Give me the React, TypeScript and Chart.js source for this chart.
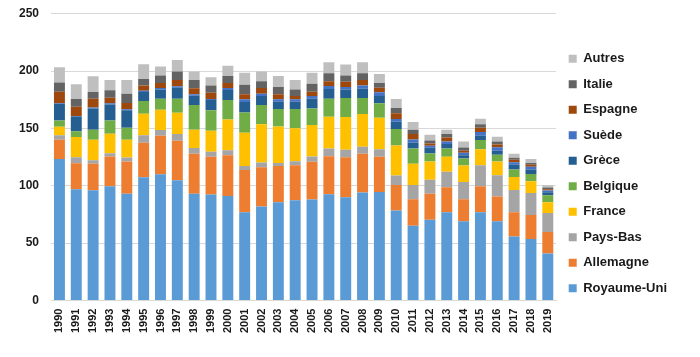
import React, { useEffect, useRef } from "react";
import { Chart, registerables } from "chart.js";

Chart.register(...registerables);

const years = [
  "1990","1991","1992","1993","1994","1995","1996","1997","1998","1999",
  "2000","2001","2002","2003","2004","2005","2006","2007","2008","2009",
  "2010","2011","2012","2013","2014","2015","2016","2017","2018","2019",
];

const royaumeUni = [123.3,97,96.2,99.7,93.2,107.5,110.1,104.9,93.2,92.4,91.2,76.9,81.9,85.7,87.4,88,92.7,90,94.1,94.7,78.4,65.3,70.5,76.9,69.1,76.9,69.1,55.9,53.6,41.1];
const allemagne = [16.9,22.8,23,25.9,28,30,33.5,34.4,34.7,32.9,35.5,37,34.4,31.7,30.6,32.9,33.2,35,33.8,30.6,22.4,23,22.5,21.9,19.2,22.8,21.5,21,21,18.6];
const paysBas = [3.8,5.2,3.2,2.9,3.5,6.5,5,5.8,5,4.4,4.4,3.5,4,2.6,3.5,4.7,6.7,6.4,6.1,6.7,8.2,12.5,12.2,13.4,15.1,18.3,18.7,19.5,19.2,16.6];
const france = [7.5,17.5,17.8,16.9,15.5,18.9,17.8,18.7,16,18.3,26.8,28.9,33.3,31.8,28.8,27.4,27.7,28.6,28.6,27.4,26.2,18.4,16,13.1,14.3,14,11.9,11.4,10.2,9.4];
const belgique = [5.5,5.2,8.7,11.6,10.4,11.1,9.6,12.2,21.6,18,16.9,17.7,16.9,15.2,16.7,14.5,15.7,16.6,14,12.5,14.3,13.4,7,7.3,6.1,7.9,5.8,6.4,6.4,6.1];
const grece = [14.3,12.6,18.6,14,15.2,7.8,8.1,9.6,8.1,8.8,8.8,9.1,7.8,6.4,6.4,8.5,8.4,7.3,8.1,6.4,6.4,5.2,5,3.8,2.9,3.7,3.5,4.1,3.8,2.6];
const suede = [0.7,0.5,0.9,1,0.9,1.2,1.2,1.2,1.2,0.9,1.7,2.3,2.1,2,2,2.3,2.7,2.3,2.7,3.2,2.3,2.6,1.7,2.3,2.1,3.3,3.2,2.3,2.4,1.5];
const espagne = [10,8.2,7.6,4.9,5.5,4.4,4.4,5.5,5.2,5.5,4.4,4.4,4.9,4.4,2.9,3.8,4,4.6,4.9,4.1,5,4.7,2,3.5,1.7,3.7,2.4,2.1,1.7,1.1];
const italie = [8,6.7,5.8,6.4,8.2,5.8,6.4,7.3,7.3,6.2,6.1,8.4,5.8,6.4,5.6,7,7,5.3,5.8,4.1,4.6,3.8,2.7,2.9,3,3,2.6,1.7,1.7,1.5];
const autres = [13.4,12.8,13.7,9,11.9,12.8,7.9,10.2,7.3,7.2,9,10.5,8.5,9.6,8.4,9.6,9.7,9.6,9.7,7.9,7.9,6.7,4.9,3.8,5.2,4.9,4.1,3.5,3.3,2];

const yTicks = [0, 50, 100, 150, 200, 250];

const seriesNames = ["Royaume-Uni","Allemagne","Pays-Bas","France","Belgique","Grèce","Suède","Espagne","Italie","Autres"];
const seriesValues = [royaumeUni, allemagne, paysBas, france, belgique, grece, suede, espagne, italie, autres];
const seriesColors = ["#5B9BD5","#ED7D31","#A5A5A5","#FFC000","#70AD47","#255E91","#4472C4","#9E480E","#636363","#BFBFBF"];

export default function App() {
  const ref = useRef<HTMLCanvasElement | null>(null);

  useEffect(() => {
    if (!ref.current) return;
    const font = "'Liberation Sans', Arial, sans-serif";
    const chart = new Chart(ref.current, {
      type: "bar",
      data: {
        labels: years,
        datasets: seriesNames.map((name, i) => ({
          label: name,
          data: seriesValues[i],
          backgroundColor: seriesColors[i],
          borderWidth: 0,
          categoryPercentage: 0.65,
          barPercentage: 1,
        })),
      },
      options: {
        animation: false,
        responsive: false,
        maintainAspectRatio: false,
        layout: { padding: { top: 6, left: 7, right: 23, bottom: 16 } },
        plugins: {
          tooltip: { enabled: false },
          legend: {
            position: "right",
            reverse: true,
            labels: {
              boxWidth: 8,
              boxHeight: 8,
              padding: 12.5,
              color: "#1a1a1a",
              font: { family: font, size: 13, weight: "bold" },
            },
          },
        },
        scales: {
          x: {
            stacked: true,
            grid: { display: false, drawTicks: false },
            border: { display: true, color: "#D9D9D9", width: 1 },
            ticks: {
              minRotation: 90,
              maxRotation: 90,
              autoSkip: false,
              padding: 8,
              color: "#1a1a1a",
              font: { family: font, size: 11, weight: "bold" },
            },
          },
          y: {
            stacked: true,
            min: 0,
            max: 250,
            afterBuildTicks: (axis: any) => {
              axis.ticks = yTicks.map((v) => ({ value: v }));
            },
            grid: { color: "#D9D9D9", drawTicks: false },
            border: { display: false },
            ticks: {
              padding: 12,
              color: "#1a1a1a",
              font: { family: font, size: 12, weight: "bold", lineHeight: 0.3 },
            },
          },
        },
      },
    });
    return () => chart.destroy();
  }, []);

  return (
    <div style={{ position: "fixed", left: 0, top: 0, width: 700, height: 357, background: "#fff" }}>
      <canvas ref={ref} width={700} height={357} style={{ width: 700, height: 357 }} />
    </div>
  );
}
